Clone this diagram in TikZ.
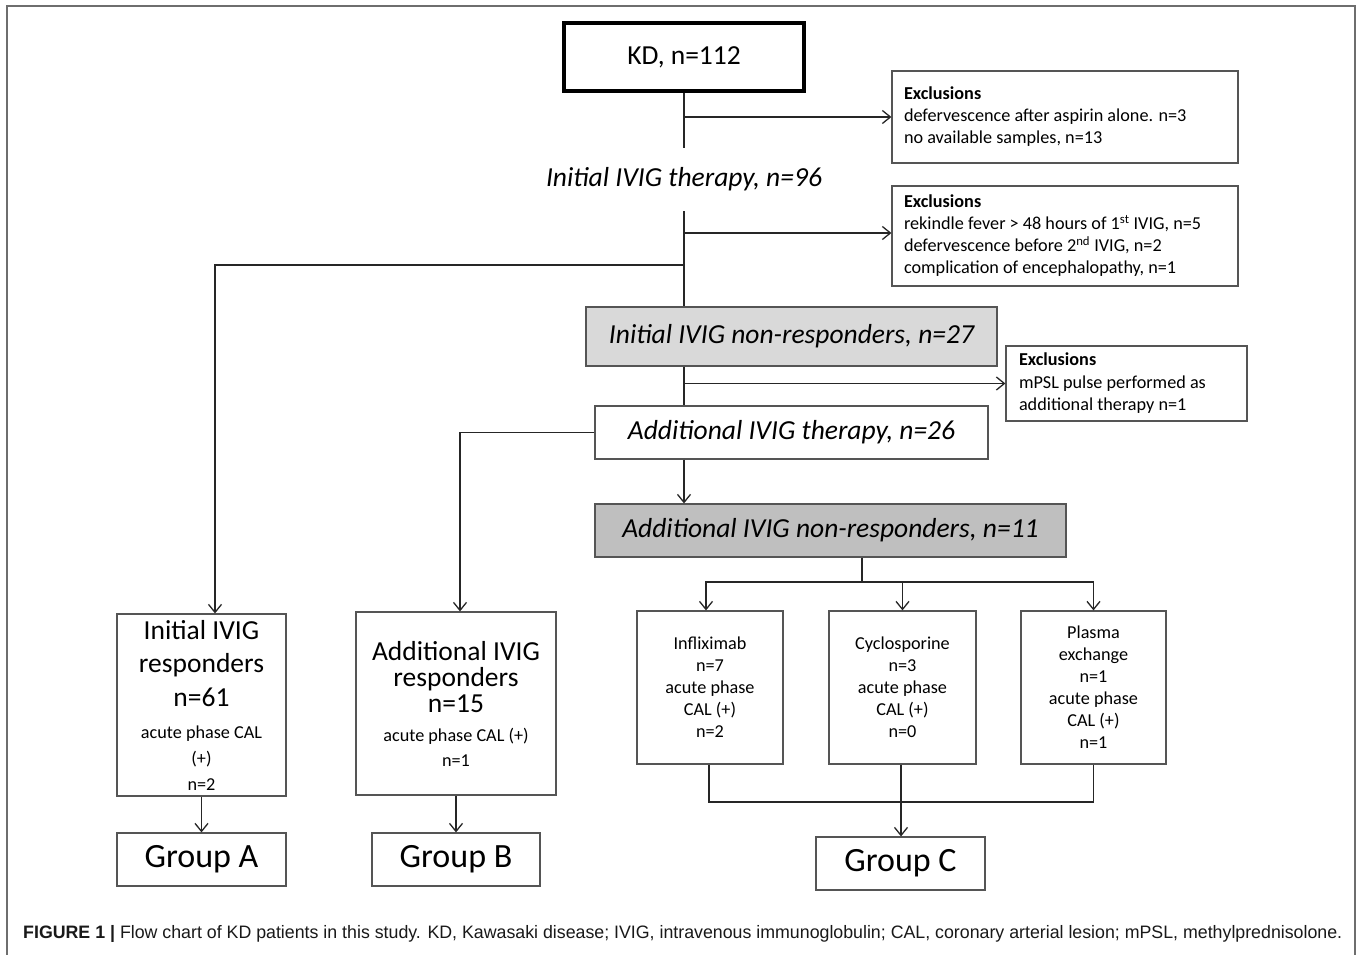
\documentclass[tikz,border=0pt]{standalone}
\usepackage{fontspec}
\setmainfont{Carlito}
\newfontfamily\capfont{Liberation Sans}
\usepackage{graphicx}
\usetikzlibrary{arrows.meta,calc}
\definecolor{boxline}{HTML}{555555}
\definecolor{nrone}{HTML}{D9D9D9}
\definecolor{nrtwo}{HTML}{BFBFBF}
\definecolor{framegray}{HTML}{6E6E6E}
\begin{document}
\begin{tikzpicture}[x=1pt,y=-1pt,
  box/.style={draw=boxline, line width=1.2pt, inner sep=0pt, align=center},
  conn/.style={line width=1.3pt, draw=black!85},
  arr/.style={conn, -{Straight Barb[length=8pt,width=13pt,line width=1.3pt]}},
  bigf/.style={font=\fontsize{27.5}{33}\selectfont},
  bigit/.style={font=\fontsize{27.5}{33}\selectfont\itshape},
  smallf/.style={font=\fontsize{18.2}{22}\selectfont},
  grpf/.style={font=\fontsize{34}{40}\selectfont},
]
\useasboundingbox (0,0) rectangle (1357,955);
\fill[white] (0,0) rectangle (1357,955);
\draw[framegray, line width=1.6pt] (7,955) -- (7,6) -- (1355,6) -- (1355,955);

% top
\node[box, draw=black, line width=3.5pt, minimum width=240, minimum height=68, bigf] (kd) at (684,57) {KD, n=112};
\node[box, minimum width=346, minimum height=92] (ex1) at (1065,117)
  {\parbox{322pt}{\raggedright\fontsize{18.2}{22}\selectfont\textbf{Exclusions}\\defervescence after aspirin alone. n=3\\no available samples, n=13}};
\node[bigit, inner sep=0pt, minimum height=63] (ther) at (684,179.5) {Initial IVIG therapy, n=96};
\node[box, minimum width=346, minimum height=100] (ex2) at (1065,236)
  {\parbox{322pt}{\raggedright\fontsize{18.2}{22}\selectfont\textbf{Exclusions}\\rekindle fever > 48 hours of 1\textsuperscript{st} IVIG, n=5\\defervescence before 2\textsuperscript{nd} IVIG, n=2\\complication of encephalopathy, n=1}};
\node[box, fill=nrone, minimum width=411, minimum height=59, bigit] (nr1) at (791.5,336.5) {Initial IVIG non-responders, n=27};
\node[box, minimum width=241, minimum height=75] (ex3) at (1126.5,383.5)
  {\parbox{215pt}{\raggedright\fontsize{18.2}{22.5}\selectfont\textbf{Exclusions}\\mPSL pulse performed as\\additional therapy n=1}};
\node[box, minimum width=393, minimum height=53, bigit] (add) at (791.5,432.5) {Additional IVIG therapy, n=26};
\node[box, fill=nrtwo, minimum width=471, minimum height=53, bigit] (nr2) at (830.5,530.5) {Additional IVIG non-responders, n=11};

% treatment boxes
\node[box, minimum width=146, minimum height=153, smallf] (infl) at (710,687.5) {Infliximab\\n=7\\acute phase\\CAL (+)\\n=2};
\node[box, minimum width=147, minimum height=153, smallf] (cyc) at (902.5,687.5) {Cyclosporine\\n=3\\acute phase\\CAL (+)\\n=0};
\node[box, minimum width=145, minimum height=153, smallf] (plas) at (1093.5,687.5) {Plasma\\exchange\\n=1\\acute phase\\CAL (+)\\n=1};

% responders
\node[box, minimum width=169, minimum height=182] (A) at (201.5,705)
  {\parbox{160pt}{\centering\fontsize{27.5}{33.5}\selectfont Initial IVIG\\responders\\n=61\par\vspace{6pt}\fontsize{18.2}{26}\selectfont acute phase CAL\\(+)\\n=2\par}};
\node[box, minimum width=200, minimum height=183] (B) at (456,703.5)
  {\parbox{196pt}{\centering\fontsize{27.5}{26}\selectfont Additional IVIG\\responders\\n=15\par\vspace{4pt}\fontsize{18.2}{25}\selectfont acute phase CAL (+)\\n=1\par}};

% groups
\node[box, minimum width=169, minimum height=53, grpf] (ga) at (201.5,859.5) {Group A};
\node[box, minimum width=168, minimum height=53, grpf] (gb) at (456,859.5) {Group B};
\node[box, minimum width=169, minimum height=53, grpf] (gc) at (900.5,863.5) {Group C};

% caption
\node[anchor=base west, inner sep=0pt, text=black!90, font=\capfont\fontsize{18}{21}\selectfont] (cap) at (23,938)
  {\resizebox{1319pt}{\height}{\textbf{FIGURE 1 |} Flow chart of KD patients in this study. KD, Kawasaki disease; IVIG, intravenous immunoglobulin; CAL, coronary arterial lesion; mPSL, methylprednisolone.}};

% connectors
\draw[conn] (kd.south) -- (ther.north);
\draw[arr] (kd.south |- ex1.west) -- (ex1.west);
\draw[conn] (ther.south) -- (ther.south |- nr1.north);
\coordinate (j2) at (684,233);
\draw[arr] (j2) -- (j2 -| ex2.west);
\coordinate (jA) at (684,265);
\draw[arr] (jA) -| ([xshift=13.5pt]A.north);
\draw[conn] (ther.south |- nr1.south) -- (ther.south |- add.north);
\draw[arr] (ther.south |- ex3.west) -- (ex3.west);
\draw[arr] (add.west) -| ([xshift=4pt]B.north);
\draw[arr] (ther.south |- add.south) -- (ther.south |- nr2.north);
\coordinate (split) at (862,582);
\draw[conn] (split |- nr2.south) -- (split);
\draw[arr] (split) -| ([xshift=-4pt]infl.north);
\draw[arr] (split) -| (plas.north);
\draw[arr] (cyc.north |- split) -- (cyc.north);
\coordinate (merge) at (901,802);
\draw[conn] ([xshift=-1pt]infl.south) |- (merge);
\draw[conn] (plas.south) |- (merge);
\draw[arr] (merge |- cyc.south) -- (merge |- gc.north);
\draw[arr] (A.south) -- (ga.north);
\draw[arr] (B.south) -- (gb.north);
\end{tikzpicture}
\end{document}
